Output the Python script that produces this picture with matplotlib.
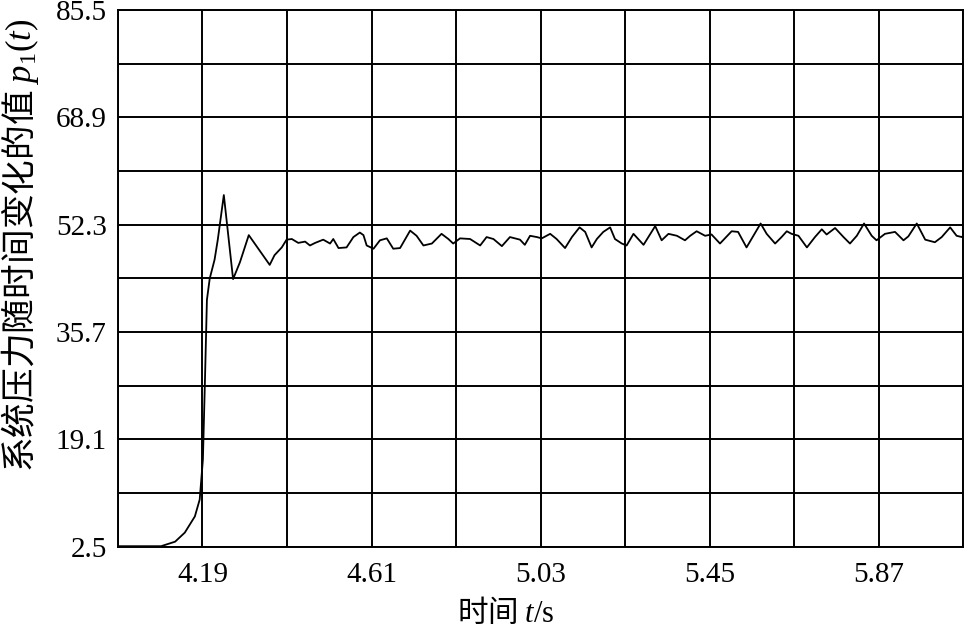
import numpy as np
import matplotlib.pyplot as plt
from matplotlib.ticker import FixedLocator

plt.rcParams['font.family'] = ['Liberation Serif', 'Noto Sans CJK SC']
# math pieces of the labels: italic serif letters, upright serif via \mathbf
plt.rcParams['mathtext.fontset'] = 'custom'
plt.rcParams['mathtext.rm'] = 'Liberation Serif'
plt.rcParams['mathtext.it'] = 'Liberation Serif:italic'
plt.rcParams['mathtext.bf'] = 'Liberation Serif'

# time (s) and pressure values
t = [3.98, 4.087, 4.122, 4.146, 4.171, 4.183, 4.191, 4.196, 4.201, 4.208,
     4.220, 4.228, 4.243, 4.266, 4.283, 4.305, 4.357, 4.369, 4.387, 4.399,
     4.412, 4.428, 4.445, 4.457, 4.470, 4.490, 4.507, 4.515, 4.528, 4.548,
     4.565, 4.581, 4.590, 4.598, 4.615, 4.631, 4.648, 4.664, 4.681, 4.706,
     4.722, 4.739, 4.760, 4.784, 4.801, 4.813, 4.830, 4.855, 4.880, 4.896,
     4.913, 4.934, 4.954, 4.979, 4.991, 5.004, 5.021, 5.033, 5.054, 5.070,
     5.091, 5.108, 5.127, 5.141, 5.157, 5.170, 5.186, 5.203, 5.215, 5.232,
     5.244, 5.261, 5.286, 5.315, 5.331, 5.348, 5.369, 5.389, 5.402, 5.418,
     5.439, 5.455, 5.476, 5.505, 5.521, 5.542, 5.577, 5.592, 5.613, 5.629,
     5.642, 5.654, 5.671, 5.692, 5.712, 5.729, 5.741, 5.762, 5.783, 5.799,
     5.816, 5.834, 5.853, 5.865, 5.886, 5.911, 5.932, 5.944, 5.965, 5.986,
     6.010, 6.027, 6.048, 6.064, 6.077, 6.08]
p = [2.6, 2.6, 3.3, 4.7, 7.2, 9.8, 16.0, 28.0, 40.7, 44.0,
     46.9, 50.0, 56.9, 43.9, 46.5, 50.7, 46.1, 47.6, 48.8, 50.0,
     50.1, 49.5, 49.7, 49.1, 49.5, 50.0, 49.4, 50.1, 48.7, 48.8,
     50.4, 51.1, 50.7, 49.1, 48.6, 49.9, 50.2, 48.6, 48.7, 51.4,
     50.6, 49.1, 49.4, 50.9, 50.1, 49.4, 50.2, 50.1, 49.1, 50.4,
     50.1, 49.0, 50.4, 50.0, 49.2, 50.6, 50.4, 50.2, 50.9, 50.1,
     48.7, 50.4, 51.9, 51.2, 48.8, 50.1, 51.2, 51.9, 50.1, 49.4,
     49.1, 50.9, 49.2, 52.1, 49.9, 50.9, 50.6, 49.9, 50.6, 51.3,
     50.6, 50.8, 49.4, 51.3, 51.2, 48.8, 52.5, 50.9, 49.4, 50.4,
     51.3, 50.9, 50.6, 48.8, 50.4, 51.6, 50.8, 51.8, 50.4, 49.4,
     50.6, 52.5, 50.6, 49.9, 50.9, 51.2, 49.9, 50.5, 52.5, 50.0,
     49.6, 50.4, 51.9, 50.6, 50.4, 50.6]

x_grid = [3.98, 4.19, 4.40, 4.61, 4.82, 5.03, 5.24, 5.45, 5.66, 5.87, 6.08]
x_labels = ['', '4.19', '', '4.61', '', '5.03', '', '5.45', '', '5.87', '']
y_grid = [2.5, 10.8, 19.1, 27.4, 35.7, 44.0, 52.3, 60.6, 68.9, 77.2, 85.5]
y_labels = ['2.5', '', '19.1', '', '35.7', '', '52.3', '', '68.9', '', '85.5']

fig = plt.figure(figsize=(9.64, 6.30), dpi=100)
ax = fig.add_axes([0.1224, 0.132, 0.8766, 0.852])

ax.plot(t, p, color='black', linewidth=1.3)

ax.set_xlim(3.98, 6.08)
ax.set_ylim(2.5, 85.5)
ax.xaxis.set_major_locator(FixedLocator(x_grid))
ax.yaxis.set_major_locator(FixedLocator(y_grid))
ax.set_xticklabels(x_labels, fontsize=21)
ax.set_yticklabels(y_labels, fontsize=21)
ax.tick_params(axis='x', length=0, pad=11)
ax.tick_params(axis='y', length=0, pad=8)
ax.grid(True, color='black', linewidth=1.4)
for s in ax.spines.values():
    s.set_linewidth(1.4)

# non-math text inside a mathtext string uses the label's own font
ax.set_xlabel(r'时间 $\mathit{t}\mathbf{/s}$', fontsize=22,
              family='Noto Sans CJK SC')
ax.set_ylabel(r'系统压力随时间变化的值 $\mathit{p}_{\mathbf{1}}\mathbf{(}\mathit{t}\mathbf{)}$',
              fontsize=25, family='Noto Sans CJK SC')
ax.xaxis.set_label_coords(0.459, -0.093)
ax.yaxis.set_label_coords(-0.091, 0.562)

fig.savefig('out.png', dpi=100)
